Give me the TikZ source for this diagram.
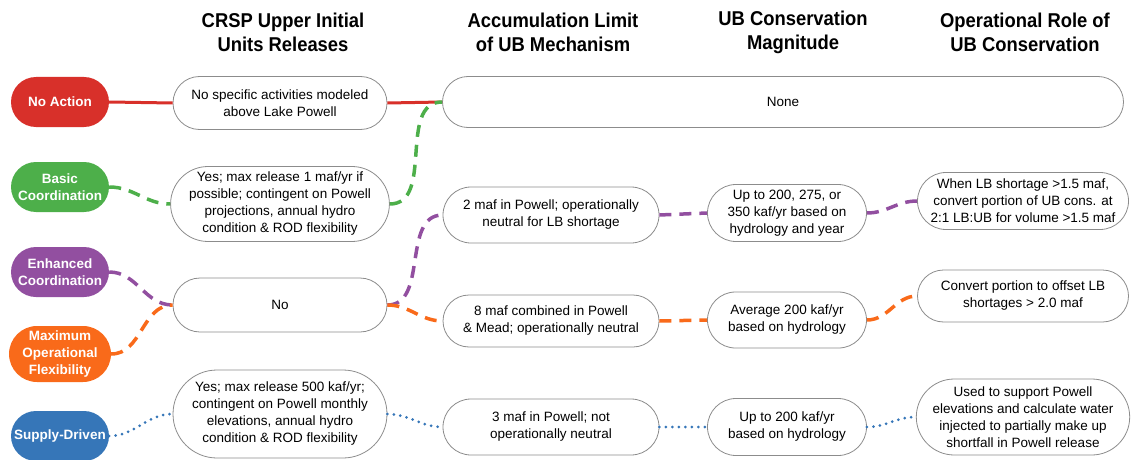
\documentclass[tikz,border=0pt]{standalone}
\usepackage{fontspec}
\setmainfont{Liberation Sans}
\newfontfamily\headfont[FakeStretch=0.92]{Liberation Sans}
\usetikzlibrary{shapes.misc}
\definecolor{NARed}{HTML}{D8302A}
\definecolor{BCGreen}{HTML}{4DAF4A}
\definecolor{ECPurple}{HTML}{924FA0}
\definecolor{MOOrange}{HTML}{F96A1A}
\definecolor{SDBlue}{HTML}{3676B8}
\tikzset{
  cat/.style={rounded rectangle, fill=#1, text=white, font=\bfseries\fontsize{13.5}{17}\selectfont,
    align=center, minimum width=100pt, minimum height=50pt, inner sep=1pt},
  box/.style={rounded rectangle, draw=black!45, line width=0.8pt, fill=white, align=center,
    font=\fontsize{13.5}{17}\selectfont, inner sep=1pt},
  head/.style={font=\headfont\bfseries\fontsize{20}{24}\selectfont, align=center},
  solidlink/.style={draw=#1, line width=3pt},
  dashlink/.style={draw=#1, line width=3.5pt, dash pattern=on 12pt off 8pt},
  dotlink/.style={draw=#1, line width=3pt, dash pattern=on 0pt off 6.5pt, line cap=round}
}
\begin{document}
\begin{tikzpicture}[x=1pt, y=-1pt]
  \useasboundingbox (0,0) rectangle (1135,460);
  % column headings
  \node[head] (h1) at (283,32) {CRSP Upper Initial\\Units Releases};
  \node[head] (h2) at (553,32) {Accumulation Limit\\of UB Mechanism};
  \node[head] (h3) at (793,32) {UB Conservation\\Magnitude};
  \node[head] (h4) at (1025,32) {Operational Role of\\UB Conservation};
  % alternatives
  \node[cat=NARed] (na) at (60,102) {No Action};
  \node[cat=BCGreen] (bc) at (60,187) {Basic\\Coordination};
  \node[cat=ECPurple] (ec) at (60,272) {Enhanced\\Coordination};
  \node[cat=MOOrange, minimum height=56pt] (mo) at (60,354) {Maximum\\Operational\\Flexibility};
  \node[cat=SDBlue] (sd) at (60,436) {Supply-Driven};
  % releases
  \node[box, minimum width=216pt, minimum height=53pt] (r1) at (280,103) {No specific activities modeled\\above Lake Powell};
  \node[box, minimum width=216pt, minimum height=75pt] (r2) at (280,204) {Yes; max release 1 maf/yr if\\possible; contingent on Powell\\projections, annual hydro\\condition \& ROD flexibility};
  \node[box, minimum width=216pt, minimum height=54pt] (r3) at (280,305) {No};
  \node[box, minimum width=216pt, minimum height=88pt] (r4) at (280,414) {Yes; max release 500 kaf/yr;\\contingent on Powell monthly\\elevations, annual hydro\\condition \& ROD flexibility};
  % accumulation limit
  \node[box, minimum width=683pt, minimum height=51pt] (a0) at (783,102) {None};
  \node[box, minimum width=218pt, minimum height=56pt] (a1) at (551,215) {2 maf in Powell; operationally\\neutral for LB shortage};
  \node[box, minimum width=218pt, minimum height=52pt] (a2) at (551,321) {8 maf combined in Powell\\\& Mead; operationally neutral};
  \node[box, minimum width=218pt, minimum height=56pt] (a3) at (551,427) {3 maf in Powell; not\\operationally neutral};
  % magnitude
  \node[box, minimum width=161pt, minimum height=57pt] (m1) at (787,213) {Up to 200, 275, or\\350 kaf/yr based on\\hydrology and year};
  \node[box, minimum width=161pt, minimum height=56pt] (m2) at (787,320) {Average 200 kaf/yr\\based on hydrology};
  \node[box, minimum width=161pt, minimum height=57pt] (m3) at (787,427) {Up to 200 kaf/yr\\based on hydrology};
  % operational role
  \node[box, minimum width=213pt, minimum height=57pt] (o1) at (1023,201) {When LB shortage >1.5 maf,\\convert portion of UB cons. at\\2:1 LB:UB for volume >1.5 maf};
  \node[box, minimum width=213pt, minimum height=52pt] (o2) at (1023,296) {Convert portion to offset LB\\shortages > 2.0 maf};
  \node[box, minimum width=213pt, minimum height=76pt] (o3) at (1023,417) {Used to support Powell\\elevations and calculate water\\injected to partially make up\\shortfall in Powell release};
  % links
  \draw[solidlink=NARed] (na.east) -- (r1.west);
  \draw[solidlink=NARed] (r1.east) -- (a0.west);
  \draw[dashlink=BCGreen] (bc.east) to[out=0,in=180] (r2.west);
  \draw[dashlink=BCGreen] (r2.east) to[out=0,in=180] (a0.west);
  \draw[dashlink=ECPurple] (ec.east) to[out=0,in=180] (r3.west);
  \draw[dashlink=ECPurple] (r3.east) to[out=0,in=180] (a1.west);
  \draw[dashlink=ECPurple] (a1.east) -- (m1.west);
  \draw[dashlink=ECPurple] (m1.east) to[out=0,in=180] (o1.west);
  \draw[dashlink=MOOrange] (mo.east) to[out=0,in=180] (r3.west);
  \draw[dashlink=MOOrange] (r3.east) to[out=0,in=180] (a2.west);
  \draw[dashlink=MOOrange] (a2.east) -- (m2.west);
  \draw[dashlink=MOOrange] (m2.east) to[out=0,in=180] (o2.west);
  \draw[dotlink=SDBlue] (sd.east) to[out=0,in=180] (r4.west);
  \draw[dotlink=SDBlue] (r4.east) to[out=0,in=180] (a3.west);
  \draw[dotlink=SDBlue] (a3.east) -- (m3.west);
  \draw[dotlink=SDBlue] (m3.east) to[out=0,in=180] (o3.west);
\end{tikzpicture}
\end{document}
